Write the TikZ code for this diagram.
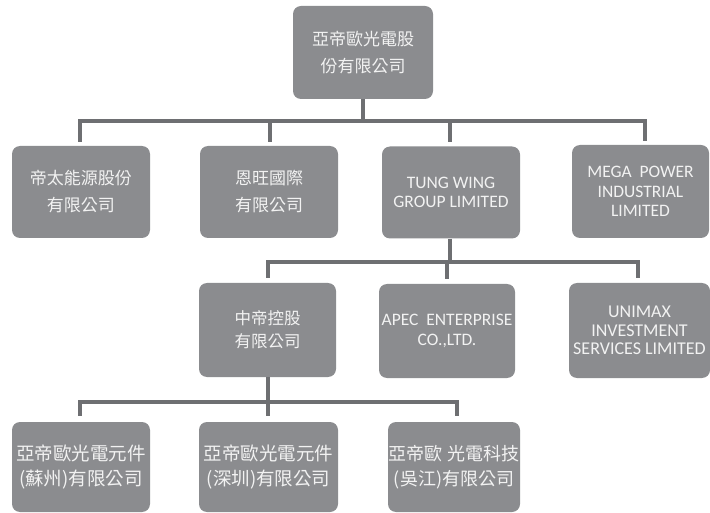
\documentclass[tikz,border=0pt]{standalone}
\usepackage{fontspec}
\setmainfont{Carlito}
\newfontfamily\cjk{Noto Sans CJK TC}
\definecolor{boxgray}{HTML}{8B8C8F}
\definecolor{linegray}{HTML}{6E6F72}
\definecolor{txt}{HTML}{F2F2F2}
\begin{document}
\begin{tikzpicture}[x=1pt,y=-1pt,
  orgbox/.style={fill=boxgray, draw=none, rounded corners=8pt, inner sep=0pt,
    text=txt, align=center, minimum width=#1},
  orgbox/.default=138pt,
  cjktext/.style={font=\cjk\fontsize{17}{27}\selectfont},
  lattext/.style={font=\fontsize{17.5}{19.5}\selectfont},
  conn/.style={draw=linegray, line width=4pt, line join=miter}]
\useasboundingbox (0,0) rectangle (710,513);
% boxes
\node[orgbox=140pt, minimum height=93pt, cjktext] (top) at (363,52.5) {亞帝歐光電股\\份有限公司};
\node[orgbox, minimum height=92pt, cjktext] (r1a) at (81,192) {帝太能源股份\\有限公司};
\node[orgbox, minimum height=92pt, cjktext] (r1b) at (269,192) {恩旺國際\\有限公司};
\node[orgbox, minimum height=92pt, lattext] (r1c) at (451,192.5) {TUNG WING\\GROUP LIMITED};
\node[orgbox=137pt, minimum height=93pt, lattext] (r1d) at (640.5,191.5) {MEGA\ \ POWER\\INDUSTRIAL\\LIMITED};
\node[orgbox=137pt, minimum height=94pt, font=\cjk\fontsize{16.5}{23}\selectfont] (r2a) at (267.5,330) {中帝控股\\有限公司};
\node[orgbox=136pt, minimum height=94pt, lattext] (r2b) at (447,331) {APEC\ \ ENTERPRISE\\CO.,LTD.};
\node[orgbox=141pt, minimum height=95pt, font=\fontsize{18}{18.5}\selectfont] (r2c) at (639.5,330.5) {UNIMAX\\INVESTMENT\\SERVICES LIMITED};
\node[orgbox, minimum height=90pt, font=\cjk\fontsize{18.5}{25}\selectfont] (r3a) at (81,467) {亞帝歐光電元件\\(蘇州)有限公司};
\node[orgbox=139pt, minimum height=90pt, font=\cjk\fontsize{18.5}{25}\selectfont] (r3b) at (268.5,467) {亞帝歐光電元件\\(深圳)有限公司};
\node[orgbox=132pt, minimum height=90pt, font=\cjk\fontsize{18}{25}\selectfont] (r3c) at (454,467) {亞帝歐 光電科技\\(吳江)有限公司};
% bus 1
\coordinate (b1) at (363,121);
\draw[conn] (top.south) -- (b1);
\draw[conn, shorten >=4pt] (b1) -| ([xshift=-1pt]r1a.north);
\draw[conn, shorten >=4pt] (b1) -| ([xshift=1pt]r1b.north);
\draw[conn, shorten >=4pt] (b1) -| ([xshift=-1pt]r1c.north);
\draw[conn, shorten >=4pt] (b1) -| ([xshift=4.5pt]r1d.north);
% bus 2
\coordinate (b2) at (450,262);
\draw[conn] ([xshift=-1pt]r1c.south) -- (b2);
\draw[conn, shorten >=5pt] (b2) -| (r2a.north);
\draw[conn, shorten >=5pt] (b2) -| (r2b.north);
\draw[conn, shorten >=5pt] (b2) -| ([xshift=-1.5pt]r2c.north);
% bus 3
\coordinate (b3) at (268,402);
\draw[conn] ([xshift=0.5pt]r2a.south) -- (b3);
\draw[conn, shorten >=6pt] (b3) -| ([xshift=-1pt]r3a.north);
\draw[conn, shorten >=6pt] (b3) -| ([xshift=-0.5pt]r3b.north);
\draw[conn, shorten >=6pt] (b3) -| ([xshift=3pt]r3c.north);
\end{tikzpicture}
\end{document}
